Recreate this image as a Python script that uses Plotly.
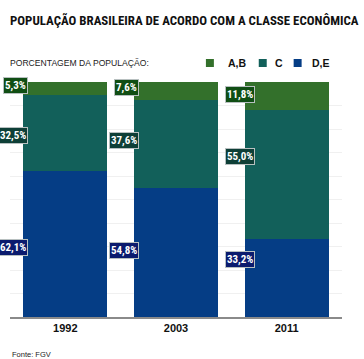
import plotly.graph_objects as go

years = ["1992", "2003", "2011"]
classes = ["D,E", "C", "A,B"]
values = {
    "D,E": [62.1, 54.8, 33.2],
    "C": [32.5, 37.6, 55.0],
    "A,B": [5.3, 7.6, 11.8],
}
labels = {
    "D,E": ["62,1%", "54,8%", "33,2%"],
    "C": ["32,5%", "37,6%", "55,0%"],
    "A,B": ["5,3%", "7,6%", "11,8%"],
}
legend_order = ["A,B", "C", "D,E"]

bar_colors = {"A,B": "#33702b", "C": "#12605a", "D,E": "#053d85"}
box_colors = {"A,B": "#104e14", "C": "#0e3f37", "D,E": "#0b1b6e"}
# vertical nudges of the value boxes (pixels, styling only)
label_yshift = {"A,B": [3, 3, 1], "C": [-3, 4, 18], "D,E": [-3, 2, 18]}

W, H = 364, 359
ml, mr, mt, mb = 9.5, 21.5, 82, 42
pw, ph = W - ml - mr, H - mt - mb


def px(xp, yp):
    return (xp - ml) / pw, 1 - (yp - mt) / ph


fig = go.Figure()
for c in classes:
    fig.add_trace(go.Bar(x=list(range(len(years))), y=values[c], name=c,
                         marker=dict(color=bar_colors[c], line=dict(width=0)),
                         showlegend=False, hoverinfo="skip"))

bargap = 0.24
half = (1 - bargap) / 2
for i in range(len(years)):
    base = 0
    for c in classes:
        v = values[c][i]
        fig.add_annotation(x=i - half, y=base + v / 2, xref="x", yref="y",
                           text="<b>" + labels[c][i] + "</b>", showarrow=False,
                           xanchor="right", xshift=5 if i < 2 else 10, yshift=label_yshift[c][i],
                           font=dict(family="Roboto Condensed", size=11, color="white"),
                           bgcolor=box_colors[c], bordercolor="#b8c0c0", borderwidth=1, borderpad=1)
        base += v

tx, ty = px(7, 21)
fig.add_annotation(x=tx, y=ty, xref="paper", yref="paper",
                   text="<b>POPULAÇÃO BRASILEIRA DE ACORDO COM A CLASSE ECONÔMICA</b>",
                   showarrow=False, xanchor="left", yanchor="middle",
                   font=dict(family="Roboto Condensed", size=12.9, color="#111"))

sx, sy = px(7, 63)
fig.add_annotation(x=sx, y=sy, xref="paper", yref="paper", text="PORCENTAGEM DA POPULAÇÃO:",
                   showarrow=False, xanchor="left", yanchor="middle",
                   font=dict(family="Liberation Sans, Arial", size=8.6, color="#222"))
fx, fy = px(9, 354)
fig.add_annotation(x=fx, y=fy, xref="paper", yref="paper", text="Fonte: FGV",
                   showarrow=False, xanchor="left", yanchor="middle",
                   font=dict(family="Liberation Sans, Arial", size=7.5, color="#222"))

legend_sq_x = [210, 263, 298]
legend_tx_x = [226, 273, 310]
for name, sqx, txx in zip(legend_order, legend_sq_x, legend_tx_x):
    x0, y0 = px(sqx - 4, 59)
    x1, y1 = px(sqx + 4, 67)
    fig.add_shape(type="rect", xref="paper", yref="paper", x0=x0, x1=x1, y0=y1, y1=y0,
                  fillcolor=bar_colors[name], line=dict(width=0))
    lx, ly = px(txx, 63)
    fig.add_annotation(x=lx, y=ly, xref="paper", yref="paper", text="<b>" + name + "</b>",
                       showarrow=False, xanchor="left", yanchor="middle",
                       font=dict(family="Liberation Sans, Arial", size=10.5, color="#111"))

fig.update_layout(
    width=W, height=H,
    margin=dict(l=ml, r=mr, t=mt, b=mb, autoexpand=False),
    paper_bgcolor="white", plot_bgcolor="white",
    barmode="stack", bargap=bargap,
    xaxis=dict(tickmode="array", tickvals=list(range(len(years))),
               ticktext=["<b>" + y + "</b>" for y in years],
               range=[-0.5, 2.5], showgrid=False, zeroline=False, showline=True,
               linecolor="#8a8a8a", linewidth=2, ticks="", ticklen=0,
               tickfont=dict(family="Liberation Sans, Arial", size=11, color="#111")),
    yaxis=dict(range=[0, 100], dtick=10, showgrid=True, gridcolor="#f0f0f0", gridwidth=1,
               showticklabels=False, zeroline=False, ticks=""),
    font=dict(family="Liberation Sans, Arial"),
)

fig.write_html("out.html", config={"displayModeBar": False},
               post_script="document.body.style.margin='0';document.body.style.overflow='hidden';")
